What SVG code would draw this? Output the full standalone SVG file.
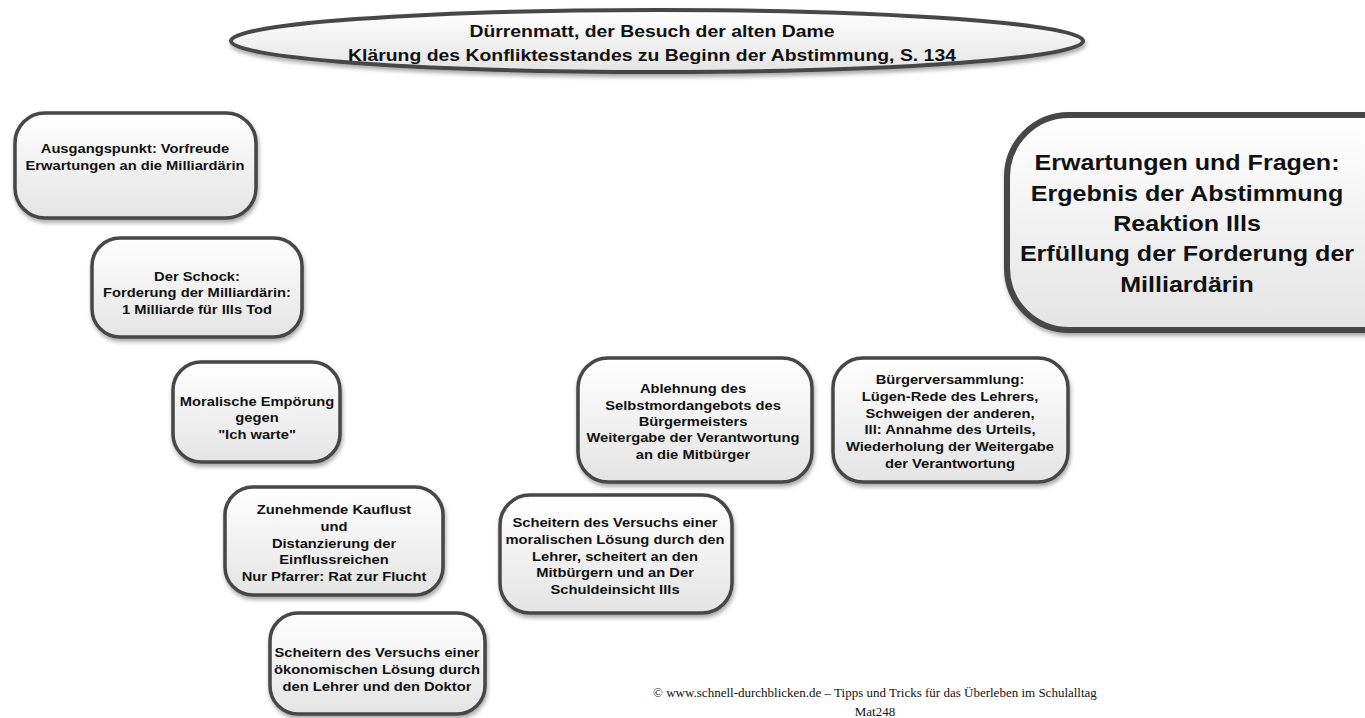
<svg xmlns="http://www.w3.org/2000/svg" width="1365" height="718" viewBox="0 0 1365 718">
<defs>
<linearGradient id="fillg" x1="0" y1="0" x2="0" y2="1">
<stop offset="0" stop-color="#ffffff"/>
<stop offset="1" stop-color="#e4e4e4"/>
</linearGradient>
<filter id="sh" x="-10%" y="-10%" width="120%" height="130%">
<feGaussianBlur in="SourceAlpha" stdDeviation="2"/>
<feOffset dx="1" dy="3" result="b"/>
<feComponentTransfer><feFuncA type="linear" slope="0.35"/></feComponentTransfer>
<feMerge><feMergeNode/><feMergeNode in="SourceGraphic"/></feMerge>
</filter>
</defs>
<style>
.box{fill:url(#fillg);stroke:#464646;stroke-width:3.5;filter:url(#sh)}
.big{fill:url(#fillg);stroke:#464646;stroke-width:6;filter:url(#sh)}
.t{font-family:"Liberation Sans",Arial,Helvetica,sans-serif;font-weight:bold;fill:#111;text-anchor:middle}
.s{font-size:12.8px}
.ttl{font-size:16.5px}
.bt{font-size:22px}
.foot{font-family:"Liberation Serif","Times New Roman",serif;font-size:13px;fill:#111;text-anchor:middle}
</style>
<rect width="1365" height="718" fill="#ffffff"/>
<g id="connectors"></g>
<g id="title">
<ellipse class="box" cx="657" cy="41" rx="426" ry="31" style="stroke-width:4"/>
<g transform="translate(652 0) scale(1.175 1)">
<text class="t ttl" x="0" y="37">Dürrenmatt, der Besuch der alten Dame</text>
<text class="t ttl" x="0" y="61">Klärung des Konfliktesstandes zu Beginn der Abstimmung, S. 134</text>
</g>
</g>
<g id="n1">
<rect class="box" x="15" y="113" width="241" height="105" rx="30"/>
<g transform="translate(135 0) scale(1.15 1)">
<text class="t s" x="0" y="153">Ausgangspunkt: Vorfreude</text>
<text class="t s" x="0" y="170">Erwartungen an die Milliardärin</text>
</g>
</g>
<g id="n2">
<rect class="box" x="92" y="238" width="210" height="99" rx="28"/>
<g transform="translate(197 0) scale(1.15 1)">
<text class="t s" x="0" y="281">Der Schock:</text>
<text class="t s" x="0" y="297.5">Forderung der Milliardärin:</text>
<text class="t s" x="0" y="314">1 Milliarde für Ills Tod</text>
</g>
</g>
<g id="n3">
<rect class="box" x="173" y="362" width="167" height="100" rx="28"/>
<g transform="translate(257 0) scale(1.15 1)">
<text class="t s" x="0" y="406">Moralische Empörung</text>
<text class="t s" x="0" y="422.5">gegen</text>
<text class="t s" x="0" y="439">"Ich warte"</text>
</g>
</g>
<g id="n4">
<rect class="box" x="225" y="487" width="218" height="108" rx="28"/>
<g transform="translate(334 0) scale(1.15 1)">
<text class="t s" x="0" y="514.5">Zunehmende Kauflust</text>
<text class="t s" x="0" y="531">und</text>
<text class="t s" x="0" y="548">Distanzierung der</text>
<text class="t s" x="0" y="564.5">Einflussreichen</text>
<text class="t s" x="0" y="581">Nur Pfarrer: Rat zur Flucht</text>
</g>
</g>
<g id="n5">
<rect class="box" x="270" y="613" width="215" height="101" rx="28"/>
<g transform="translate(377 0) scale(1.15 1)">
<text class="t s" x="0" y="657.5">Scheitern des Versuchs einer</text>
<text class="t s" x="0" y="674">ökonomischen Lösung durch</text>
<text class="t s" x="0" y="691">den Lehrer und den Doktor</text>
</g>
</g>
<g id="n6">
<rect class="box" x="500" y="495" width="232" height="118" rx="30"/>
<g transform="translate(615 0) scale(1.15 1)">
<text class="t s" x="0" y="527.5">Scheitern des Versuchs einer</text>
<text class="t s" x="0" y="544.5">moralischen Lösung durch den</text>
<text class="t s" x="0" y="561">Lehrer, scheitert an den</text>
<text class="t s" x="0" y="577.5">Mitbürgern und an Der</text>
<text class="t s" x="0" y="594.5">Schuldeinsicht Ills</text>
</g>
</g>
<g id="n7">
<rect class="box" x="578" y="358" width="234" height="124" rx="30"/>
<g transform="translate(693 0) scale(1.15 1)">
<text class="t s" x="0" y="393.5">Ablehnung des</text>
<text class="t s" x="0" y="410">Selbstmordangebots des</text>
<text class="t s" x="0" y="426">Bürgermeisters</text>
<text class="t s" x="0" y="442.5">Weitergabe der Verantwortung</text>
<text class="t s" x="0" y="459.5">an die Mitbürger</text>
</g>
</g>
<g id="n8">
<rect class="box" x="833" y="358" width="235" height="124" rx="30"/>
<g transform="translate(950 0) scale(1.15 1)">
<text class="t s" x="0" y="384.5">Bürgerversammlung:</text>
<text class="t s" x="0" y="401.5">Lügen-Rede des Lehrers,</text>
<text class="t s" x="0" y="418">Schweigen der anderen,</text>
<text class="t s" x="0" y="434.5">Ill: Annahme des Urteils,</text>
<text class="t s" x="0" y="451.5">Wiederholung der Weitergabe</text>
<text class="t s" x="0" y="468.5">der Verantwortung</text>
</g>
</g>
<g id="n9">
<rect class="big" x="1007" y="115" width="420" height="215" rx="62"/>
<g transform="translate(1187 0) scale(1.14 1)">
<text class="t bt" x="0" y="170">Erwartungen und Fragen:</text>
<text class="t bt" x="0" y="201">Ergebnis der Abstimmung</text>
<text class="t bt" x="0" y="231">Reaktion Ills</text>
<text class="t bt" x="0" y="261">Erfüllung der Forderung der</text>
<text class="t bt" x="0" y="292">Milliardärin</text>
</g>
</g>
<g id="footer">
<text class="foot" x="875" y="697">© www.schnell-durchblicken.de – Tipps und Tricks für das Überleben im Schulalltag</text>
<text class="foot" x="875" y="716">Mat248</text>
</g>
</svg>
